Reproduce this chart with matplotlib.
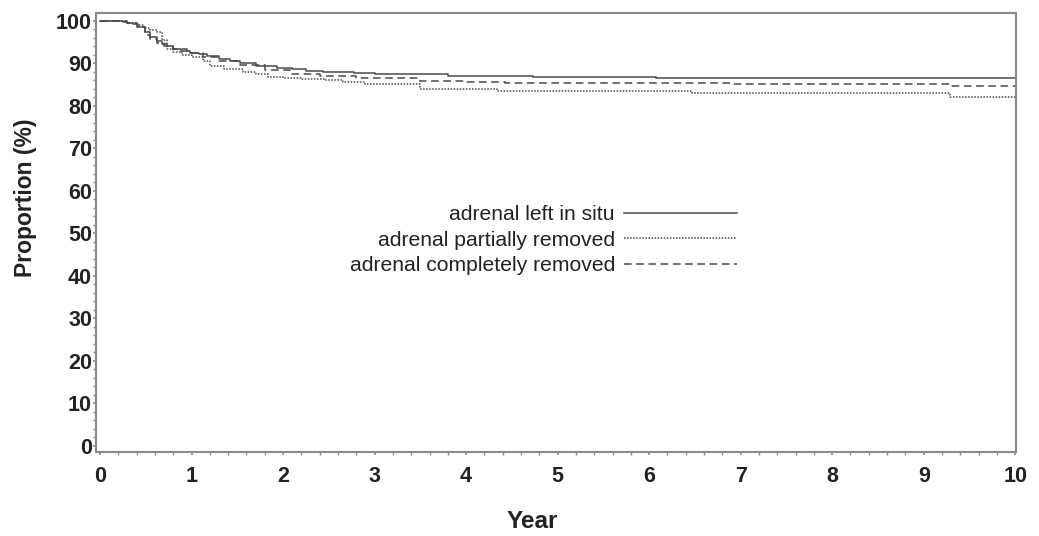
import matplotlib.pyplot as plt
from matplotlib.ticker import MultipleLocator

plt.rcParams['font.family'] = ['Liberation Sans', 'DejaVu Sans']

# Kaplan-Meier style step curves (years, proportion %)
insitu_t = [0, 0.25, 0.3, 0.36, 0.42, 0.49, 0.55, 0.62, 0.68, 0.73, 0.8, 0.88, 0.98,
            1.08, 1.17, 1.3, 1.42, 1.53, 1.7, 1.93, 2.1, 2.25, 2.44, 2.6, 2.77, 3.0,
            3.8, 4.73, 6.08, 10]
insitu_s = [100, 99.8, 99.6, 99.3, 98.5, 97.3, 96.3, 95.3, 94.6, 94.0, 93.4, 92.9, 92.5,
            92.2, 91.8, 91.0, 90.5, 90.0, 89.4, 88.9, 88.6, 88.3, 88.1, 87.9, 87.7, 87.5,
            87.1, 86.7, 86.5, 86.5]

partial_t = [0, 0.3, 0.4, 0.48, 0.55, 0.62, 0.68, 0.73, 0.8, 0.9, 1.0, 1.13, 1.2, 1.35,
             1.56, 1.7, 1.83, 2.0, 2.2, 2.45, 2.66, 2.9, 3.5, 4.34, 6.47, 9.29, 10]
partial_s = [100, 99.5, 99.0, 98.3, 97.8, 97.3, 95.5, 93.5, 92.8, 92.0, 91.5, 90.5, 89.3,
             88.8, 88.1, 87.5, 86.9, 86.5, 86.3, 86.0, 85.7, 85.2, 84.0, 83.5, 83.0, 82.0, 82.0]

complete_t = [0, 0.3, 0.4, 0.49, 0.55, 0.62, 0.7, 0.8, 0.95, 1.13, 1.3, 1.53, 1.8, 2.08,
              2.4, 2.8, 3.5, 4.0, 4.43, 6.92, 9.29, 10]
complete_s = [100, 99.6, 98.5, 96.7, 95.7, 94.8, 94.1, 93.5, 92.5, 91.5, 90.5, 89.6, 88.5,
              87.6, 87.0, 86.5, 85.9, 85.6, 85.4, 85.1, 84.8, 84.8]

fig = plt.figure(figsize=(10.39, 5.36), dpi=100)
ax = fig.add_axes([0.0924, 0.157, 0.8856, 0.819])

line_col = '#4a4a4a'
ax.step(insitu_t, insitu_s, where='post', color=line_col, lw=1.1, ls='-',
        label='adrenal left in situ')
ax.step(partial_t, partial_s, where='post', color=line_col, lw=1.1, ls=(0, (1, 1)),
        label='adrenal partially removed')
ax.step(complete_t, complete_s, where='post', color=line_col, lw=1.1, ls=(0, (5, 3)),
        label='adrenal completely removed')

ax.set_xlim(-0.044, 10.01)
ax.set_ylim(-1.4, 101.9)
ax.xaxis.set_major_locator(MultipleLocator(1))
ax.xaxis.set_minor_locator(MultipleLocator(0.2))
ax.yaxis.set_major_locator(MultipleLocator(10))
ax.yaxis.set_minor_locator(MultipleLocator(2))

for sp in ax.spines.values():
    sp.set_color('#8a8a8a')
    sp.set_linewidth(1.5)

ax.tick_params(which='major', length=2.4, width=1.2, color='#8a8a8a', labelsize=15.5,
               direction='out')
ax.tick_params(which='minor', length=2.0, width=1.0, color='#8a8a8a', direction='out')
ax.tick_params(axis='x', which='major', pad=8)
ax.tick_params(axis='y', which='major', pad=0.5)
for lab in ax.get_xticklabels() + ax.get_yticklabels():
    lab.set_fontweight('bold')
    lab.set_color('#222222')

ax.set_xlabel('Year', fontsize=17.5, fontweight='bold', color='#222222')
ax.set_ylabel('Proportion (%)', fontsize=16.5, fontweight='bold', color='#222222')
ax.xaxis.set_label_coords(0.474, -0.132)
ax.yaxis.set_label_coords(-0.064, 0.579)

ax.legend(loc='upper right', bbox_to_anchor=(0.717, 0.605), frameon=False,
          markerfirst=False, fontsize=15.2, handlelength=5.35, handletextpad=0.42,
          labelspacing=0.3, labelcolor='#222222')

fig.savefig('out.png', dpi=100)
